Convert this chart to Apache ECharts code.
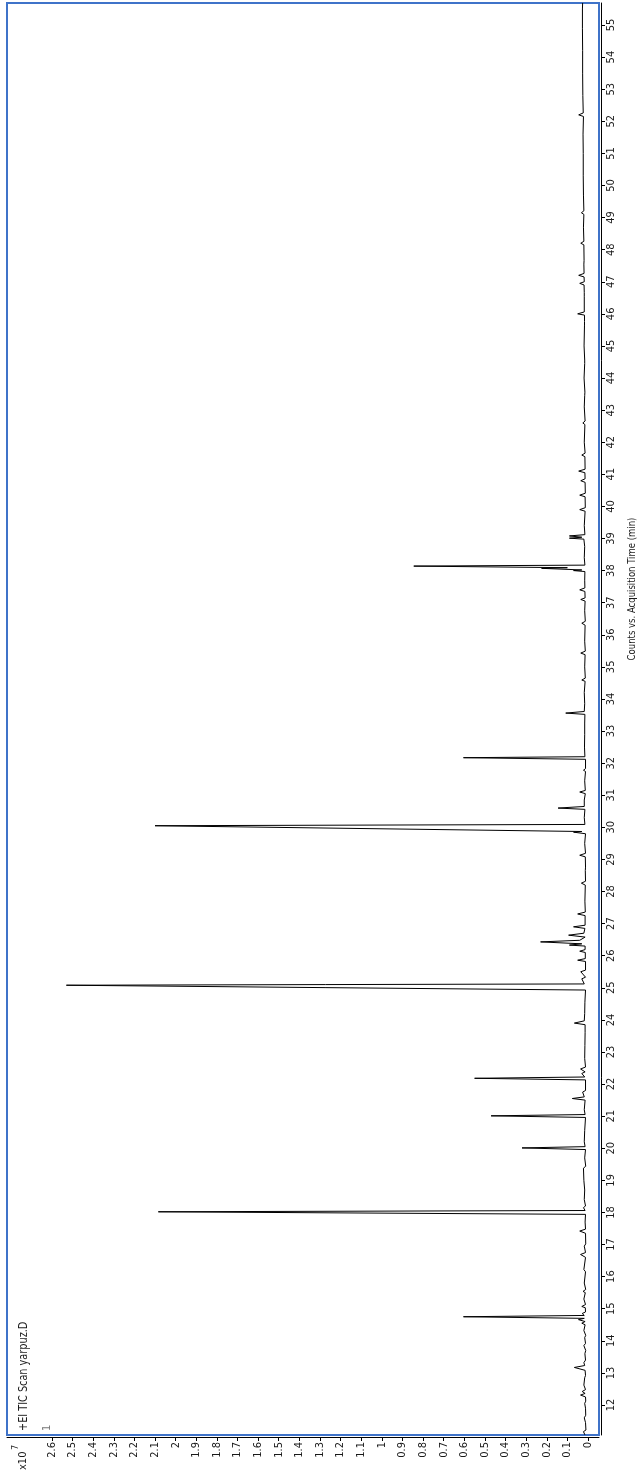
<!DOCTYPE html>
<html>
<head>
<meta charset="utf-8">
<title>+EI TIC Scan yarpuz.D</title>
<script src="https://cdn.jsdelivr.net/npm/echarts@6/dist/echarts.min.js"></script>
<style>
  html, body { margin: 0; padding: 0; background: #ffffff; }
  #chart { width: 643px; height: 1474px; }
</style>
</head>
<body>
<div id="chart"></div>
<script>
// Total ion chromatogram, drawn turned on its side:
// acquisition time runs up the right edge, counts (x10^7) run leftwards along the bottom.

// Trace vertices as [acquisition time (min), counts (x10^7)], split by retention window
const trace11to18 = [
  [11.07, 0.015], [11.12, 0.011], [11.17, 0.022], [11.22, 0.010], [11.45, 0.012], [11.60, 0.018],
  [11.68, 0.011], [11.90, 0.012], [12.05, 0.016], [12.12, 0.011], [12.25, 0.012], [12.31, 0.036],
  [12.36, 0.014], [12.42, 0.028], [12.48, 0.012], [12.62, 0.020], [12.68, 0.012], [12.85, 0.016],
  [12.92, 0.012], [13.08, 0.014], [13.17, 0.066], [13.23, 0.016], [13.32, 0.020], [13.40, 0.012],
  [13.60, 0.015], [13.70, 0.011], [13.85, 0.020], [13.92, 0.012], [14.10, 0.016], [14.17, 0.011],
  [14.32, 0.020], [14.38, 0.012], [14.50, 0.014], [14.55, 0.030], [14.60, 0.014], [14.66, 0.046],
  [14.70, 0.018], [14.72, 0.020], [14.75, 0.604], [14.79, 0.018], [14.85, 0.028], [14.90, 0.012],
  [15.03, 0.013], [15.07, 0.030], [15.13, 0.012], [15.30, 0.020], [15.36, 0.011], [15.50, 0.013],
  [15.54, 0.024], [15.60, 0.011], [15.80, 0.018], [15.86, 0.011], [16.15, 0.012], [16.22, 0.020],
  [16.28, 0.011], [16.60, 0.012], [16.69, 0.036], [16.75, 0.012], [16.95, 0.018], [17.02, 0.011],
  [17.35, 0.012], [17.42, 0.040], [17.48, 0.012], [17.70, 0.014], [17.75, 0.011], [17.94, 0.012],
  [18.02, 2.084], [18.06, 0.014], [18.15, 0.022], [18.20, 0.012]
];
const trace18to25 = [
  [18.40, 0.018], [18.46, 0.011], [18.70, 0.016], [18.76, 0.011], [19.00, 0.020], [19.06, 0.011],
  [19.38, 0.022], [19.44, 0.011], [19.70, 0.016], [19.76, 0.011], [19.96, 0.012], [20.01, 0.320],
  [20.05, 0.014], [20.20, 0.018], [20.26, 0.011], [20.55, 0.016], [20.60, 0.011], [20.96, 0.012],
  [21.01, 0.470], [21.05, 0.014], [21.20, 0.018], [21.25, 0.011], [21.50, 0.014], [21.55, 0.076],
  [21.60, 0.018], [21.75, 0.026], [21.80, 0.012], [22.13, 0.012], [22.18, 0.550], [22.22, 0.016],
  [22.33, 0.030], [22.38, 0.014], [22.47, 0.036], [22.53, 0.012], [22.80, 0.016], [22.86, 0.011],
  [23.20, 0.015], [23.26, 0.011], [23.60, 0.014], [23.66, 0.011], [23.85, 0.014], [23.90, 0.066],
  [23.97, 0.018], [24.20, 0.016], [24.26, 0.011], [24.55, 0.015], [24.60, 0.011], [24.93, 0.012]
];
const trace25to33 = [
  [25.08, 2.530], [25.12, 0.018], [25.28, 0.030], [25.33, 0.012], [25.50, 0.035], [25.55, 0.012],
  [25.82, 0.012], [25.86, 0.050], [25.91, 0.013], [26.10, 0.013], [26.14, 0.040], [26.19, 0.014],
  [26.30, 0.014], [26.33, 0.090], [26.37, 0.030], [26.43, 0.230], [26.48, 0.040], [26.58, 0.014],
  [26.64, 0.094], [26.70, 0.020], [26.85, 0.015], [26.90, 0.070], [26.95, 0.014], [27.25, 0.014],
  [27.30, 0.050], [27.36, 0.013], [27.70, 0.015], [27.76, 0.012], [28.20, 0.013], [28.26, 0.032],
  [28.32, 0.012], [28.65, 0.013], [28.70, 0.022], [28.76, 0.012], [29.08, 0.013], [29.13, 0.040],
  [29.19, 0.012], [29.50, 0.016], [29.56, 0.012], [29.80, 0.012], [29.85, 0.070], [29.87, 0.030],
  [30.05, 2.100], [30.09, 0.015], [30.30, 0.018], [30.35, 0.013], [30.56, 0.015], [30.60, 0.145],
  [30.65, 0.018], [30.85, 0.018], [30.90, 0.013], [31.05, 0.013], [31.10, 0.040], [31.15, 0.013],
  [31.45, 0.016], [31.50, 0.012], [31.74, 0.012], [31.78, 0.022], [31.83, 0.012], [32.12, 0.012],
  [32.17, 0.604], [32.20, 0.015], [32.50, 0.017], [32.56, 0.012], [32.90, 0.016], [32.96, 0.012]
];
const trace33to40 = [
  [33.25, 0.016], [33.30, 0.012], [33.52, 0.015], [33.56, 0.108], [33.61, 0.018], [33.85, 0.016],
  [33.90, 0.013], [34.20, 0.018], [34.25, 0.013], [34.55, 0.014], [34.59, 0.030], [34.65, 0.013],
  [35.00, 0.016], [35.05, 0.013], [35.38, 0.014], [35.43, 0.035], [35.49, 0.013], [35.80, 0.016],
  [35.85, 0.013], [36.30, 0.014], [36.36, 0.030], [36.42, 0.013], [36.75, 0.016], [36.80, 0.013],
  [37.05, 0.014], [37.10, 0.035], [37.15, 0.014], [37.35, 0.015], [37.40, 0.040], [37.46, 0.015],
  [37.70, 0.016], [37.75, 0.013], [37.97, 0.015], [38.00, 0.070], [38.02, 0.030], [38.07, 0.225],
  [38.09, 0.100], [38.14, 0.845], [38.17, 0.015], [38.40, 0.018], [38.45, 0.013], [38.75, 0.016],
  [38.80, 0.013], [38.98, 0.020], [39.01, 0.090], [39.04, 0.030], [39.08, 0.090], [39.12, 0.015],
  [39.40, 0.018], [39.45, 0.013], [39.85, 0.014], [39.90, 0.040], [39.96, 0.013], [40.30, 0.014],
  [40.35, 0.040], [40.41, 0.013]
];
const trace40to56 = [
  [40.75, 0.014], [40.80, 0.035], [40.86, 0.014], [41.05, 0.015], [41.10, 0.045], [41.16, 0.014],
  [41.55, 0.015], [41.60, 0.030], [41.66, 0.014], [42.00, 0.018], [42.05, 0.014], [42.55, 0.015],
  [42.60, 0.025], [42.66, 0.014], [43.10, 0.018], [43.15, 0.015], [43.45, 0.016], [43.50, 0.022],
  [43.56, 0.015], [44.00, 0.019], [44.05, 0.015], [44.45, 0.016], [44.50, 0.022], [44.56, 0.016],
  [45.00, 0.019], [45.05, 0.016], [45.65, 0.017], [45.70, 0.024], [45.76, 0.017], [45.96, 0.017],
  [46.00, 0.050], [46.06, 0.018], [46.55, 0.018], [46.60, 0.024], [46.66, 0.018], [46.90, 0.019],
  [46.95, 0.040], [47.00, 0.018], [47.15, 0.019], [47.20, 0.045], [47.26, 0.019], [47.55, 0.020],
  [47.60, 0.026], [47.66, 0.019], [48.15, 0.020], [48.20, 0.035], [48.26, 0.020], [48.70, 0.022],
  [48.75, 0.020], [49.10, 0.020], [49.15, 0.032], [49.21, 0.020], [49.70, 0.022], [49.75, 0.020],
  [50.30, 0.023], [50.35, 0.021], [51.00, 0.023], [51.05, 0.021], [51.60, 0.024], [51.65, 0.022],
  [52.15, 0.022], [52.20, 0.045], [52.26, 0.023], [52.80, 0.025], [52.85, 0.023], [53.50, 0.026],
  [53.55, 0.024], [54.20, 0.026], [54.25, 0.024], [54.90, 0.027], [54.95, 0.025], [55.50, 0.027],
  [55.69, 0.026]
];

// Axis tick labels
const countTicks = [0, 0.1, 0.2, 0.3, 0.4, 0.5, 0.6, 0.7, 0.8, 0.9, 1, 1.1, 1.2, 1.3,
  1.4, 1.5, 1.6, 1.7, 1.8, 1.9, 2, 2.1, 2.2, 2.3, 2.4, 2.5, 2.6];
const timeTicks = [12, 13, 14, 15, 16, 17, 18, 19, 20, 21, 22, 23, 24, 25, 26, 27, 28,
  29, 30, 31, 32, 33, 34, 35, 36, 37, 38, 39, 40, 41, 42, 43, 44, 45, 46, 47, 48, 49,
  50, 51, 52, 53, 54, 55];

const titleText = '+EI TIC Scan yarpuz.D';
const axisTitle = 'Counts vs. Acquisition Time (min)';
const traceNumber = '1';

const FONT = '"Liberation Sans Narrow", "Arial Narrow", "DejaVu Sans Condensed", "Liberation Sans", sans-serif';
const INK = '#1a1a1a';
const FRAME = '#3f73c9';
const UP = Math.PI / 2;

// counts go on the horizontal axis, time on the vertical one
const points = [].concat(trace11to18, trace18to25, trace25to33, trace33to40, trace40to56)
  .map(([t, c]) => [c, t]);

const chart = echarts.init(document.getElementById('chart'), null, { renderer: 'canvas' });

chart.setOption({
  animation: false,
  backgroundColor: '#ffffff',
  grid: {
    left: 7, right: 44, top: 3, bottom: 39,
    show: true,
    borderColor: FRAME,
    borderWidth: 2,
    backgroundColor: 'transparent'
  },
  xAxis: {
    type: 'value',
    inverse: true,
    position: 'bottom',
    offset: 2,
    min: -0.0534,
    max: 2.818,
    splitLine: { show: false },
    axisLine: { show: true, onZero: false, lineStyle: { color: '#000', width: 1 } },
    axisTick: { show: true, length: 4, customValues: countTicks, lineStyle: { color: '#000' } },
    axisLabel: {
      customValues: countTicks,
      rotate: 90,
      margin: 5,
      color: INK,
      fontFamily: FONT,
      fontSize: 11
    }
  },
  yAxis: {
    type: 'value',
    position: 'right',
    offset: 2,
    min: 11.065,
    max: 55.686,
    splitLine: { show: false },
    axisLine: { show: true, onZero: false, lineStyle: { color: '#000', width: 1 } },
    axisTick: { show: true, length: 4, customValues: timeTicks, lineStyle: { color: '#000' } },
    axisLabel: {
      customValues: timeTicks,
      rotate: 90,
      margin: 5,
      color: INK,
      fontFamily: FONT,
      fontSize: 11
    }
  },
  series: [{
    type: 'line',
    data: points,
    showSymbol: false,
    symbol: 'none',
    clip: true,
    lineStyle: { color: '#000000', width: 1 },
    z: 3
  }],
  graphic: [
    {
      type: 'text', x: 24, y: 1431, rotation: UP, scaleX: 0.9,
      style: { text: titleText, fill: INK, font: '12px ' + FONT, textAlign: 'left', textVerticalAlign: 'middle' }
    },
    {
      type: 'text', x: 47, y: 1431, rotation: UP,
      style: { text: traceNumber, fill: '#777', font: '11px ' + FONT, textAlign: 'left', textVerticalAlign: 'middle' }
    },
    {
      type: 'text', x: 23, y: 1470, rotation: UP,
      style: { text: 'x10', fill: INK, font: '11px ' + FONT, textAlign: 'left', textVerticalAlign: 'middle' }
    },
    {
      type: 'text', x: 16, y: 1450, rotation: UP,
      style: { text: '7', fill: INK, font: '9px ' + FONT, textAlign: 'left', textVerticalAlign: 'middle' }
    },
    {
      type: 'text', x: 632, y: 589, rotation: UP, scaleX: 0.86,
      style: { text: axisTitle, fill: INK, font: '11px ' + FONT, textAlign: 'center', textVerticalAlign: 'middle' }
    }
  ]
});
</script>
</body>
</html>
